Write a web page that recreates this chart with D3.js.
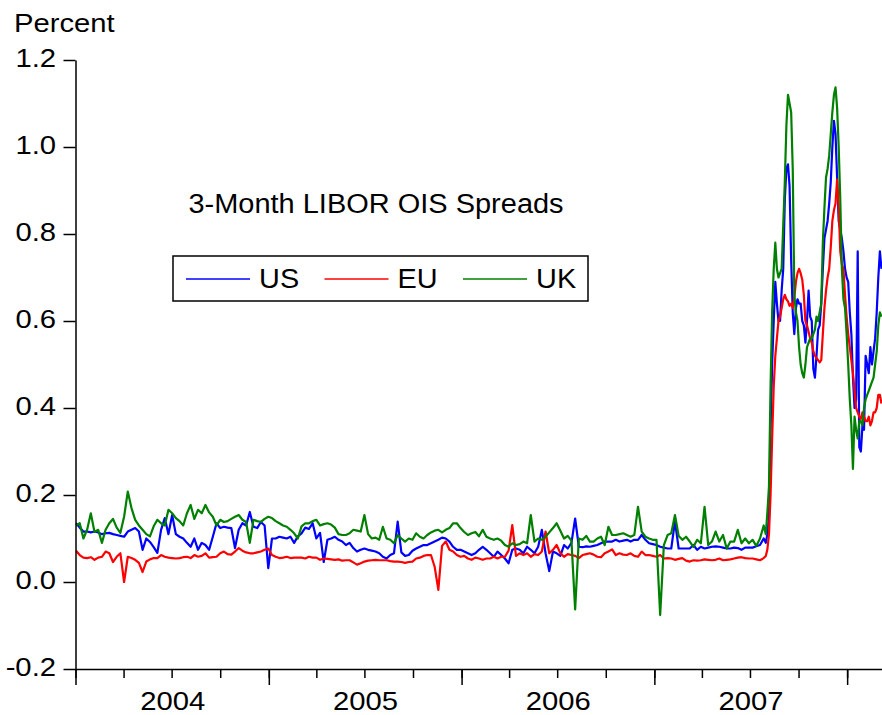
<!DOCTYPE html>
<html>
<head>
<meta charset="utf-8">
<script src="https://cdn.jsdelivr.net/npm/d3@7"></script>
<style>
  body { margin: 0; background: #fff; }
  svg text { font-family: "Liberation Sans", Arial, sans-serif; fill: #000; }
</style>
</head>
<body>
<svg id="chart" width="882" height="715"></svg>
<script>
// weekly readings (Fridays) Jan 2004 - Jul 2007
const usCalm = [
  0.135,0.125,0.116,0.116,0.114,0.116,0.114,0.110,0.112,0.113,
  0.110,0.108,0.106,0.104,0.116,0.120,0.124,0.116,0.074,0.100,
  0.092,0.080,0.067,0.120,0.147,0.110,0.154,0.110,0.104,0.100,
  0.090,0.081,0.100,0.074,0.090,0.085,0.074,0.104,0.135,0.124,
  0.127,0.125,0.124,0.078,0.120,0.135,0.130,0.161,0.127,0.124,
  0.138,0.130,0.032,0.100,0.100,0.104,0.102,0.100,0.104,0.090,
  0.105,0.112,0.125,0.122,0.135,0.100,0.113,0.046,0.097,0.100,
  0.104,0.097,0.093,0.085,0.090,0.078,0.070,0.074,0.077,0.074,
  0.072,0.070,0.066,0.058,0.054,0.062,0.066,0.139,0.068,0.060,
  0.062,0.072,0.077,0.081,0.085,0.085,0.089,0.093,0.097,0.102,
  0.100,0.093,0.081,0.074,0.074,0.070,0.066,0.062,0.066,0.074,
  0.081,0.074,0.066,0.058,0.070,0.062,0.054,0.043,0.074,0.077,
  0.074,0.066,0.081,0.074,0.066,0.081,0.120,0.066,0.025,0.070,
  0.066,0.060,0.085,0.077,0.090,0.146,0.081,0.080,0.082,0.081,
  0.083,0.085,0.089,0.093,0.093,0.093,0.097,0.093,0.095,0.097,
  0.093,0.097,0.097,0.108,0.097,0.089,0.087,0.085,0.081,0.079,
  0.077,0.077,0.140,0.077,0.077,0.077,0.077,0.085,0.074,0.081,
  0.077,0.079,0.081,0.082,0.081,0.079,0.077,0.077,0.079,0.078,
  0.074,0.079,0.079,0.079,0.082,0.085,0.100
]
const euCalm = [
  0.072,0.062,0.056,0.055,0.057,0.051,0.056,0.058,0.070,0.066,
  0.046,0.058,0.066,0.000,0.058,0.055,0.051,0.044,0.023,0.047,
  0.052,0.055,0.055,0.062,0.058,0.056,0.055,0.054,0.055,0.057,
  0.058,0.055,0.062,0.058,0.060,0.066,0.056,0.057,0.058,0.066,
  0.070,0.064,0.063,0.070,0.078,0.072,0.068,0.066,0.066,0.068,
  0.070,0.074,0.077,0.062,0.058,0.055,0.056,0.058,0.055,0.056,
  0.056,0.056,0.054,0.058,0.056,0.056,0.051,0.054,0.053,0.052,
  0.051,0.052,0.049,0.050,0.050,0.045,0.040,0.043,0.047,0.049,
  0.050,0.051,0.050,0.050,0.050,0.048,0.047,0.047,0.046,0.044,
  0.046,0.047,0.054,0.056,0.060,0.062,0.062,0.035,-0.018,0.083,
  0.093,0.074,0.070,0.062,0.058,0.060,0.054,0.051,0.056,0.054,
  0.051,0.054,0.054,0.058,0.054,0.058,0.058,0.072,0.131,0.060,
  0.066,0.062,0.066,0.058,0.064,0.062,0.070,0.116,0.066,0.074,
  0.085,0.066,0.058,0.064,0.062,0.060,0.055,0.062,0.064,0.066,
  0.063,0.058,0.057,0.066,0.070,0.075,0.062,0.066,0.063,0.062,
  0.066,0.060,0.058,0.070,0.062,0.062,0.060,0.058,0.062,0.054,
  0.055,0.054,0.051,0.053,0.055,0.049,0.047,0.050,0.049,0.050,
  0.052,0.051,0.050,0.051,0.054,0.050,0.051,0.052,0.054,0.056,
  0.057,0.055,0.054,0.054,0.052,0.050,0.055
]
const ukCalm = [
  0.130,0.135,0.100,0.120,0.158,0.115,0.120,0.090,0.120,0.135,
  0.145,0.125,0.113,0.150,0.208,0.170,0.143,0.130,0.120,0.110,
  0.105,0.128,0.143,0.135,0.130,0.166,0.158,0.147,0.140,0.130,
  0.158,0.177,0.145,0.166,0.158,0.177,0.160,0.150,0.130,0.143,
  0.138,0.140,0.145,0.150,0.154,0.143,0.138,0.090,0.143,0.140,
  0.138,0.145,0.150,0.147,0.140,0.135,0.130,0.127,0.120,0.112,
  0.100,0.128,0.135,0.135,0.140,0.143,0.130,0.133,0.135,0.132,
  0.125,0.110,0.108,0.108,0.112,0.120,0.118,0.116,0.154,0.110,
  0.100,0.102,0.097,0.127,0.100,0.097,0.089,0.108,0.100,0.093,
  0.100,0.097,0.112,0.104,0.100,0.108,0.114,0.118,0.120,0.114,
  0.120,0.124,0.135,0.135,0.124,0.115,0.108,0.112,0.115,0.105,
  0.120,0.104,0.100,0.097,0.100,0.095,0.085,0.081,0.089,0.085,
  0.087,0.093,0.089,0.154,0.093,0.100,0.097,0.104,0.114,0.124,
  0.135,0.118,0.100,0.106,0.095,-0.063,0.100,0.097,0.106,0.093,
  0.093,0.100,0.104,0.085,0.127,0.108,0.108,0.110,0.112,0.108,
  0.104,0.108,0.173,0.116,0.104,0.100,0.097,0.097,-0.076,0.085,
  0.108,0.112,0.154,0.106,0.097,0.104,0.093,0.081,0.097,0.089,
  0.173,0.085,0.093,0.116,0.093,0.108,0.077,0.093,0.093,0.120,
  0.089,0.100,0.089,0.097,0.083,0.100,0.130
]

// every third day from 31 Jul 2007 to early Mar 2008
const usCrisis = [
  0.09,0.11,0.15,0.35,0.50,0.60,0.69,0.64,0.60,0.60,
  0.67,0.72,0.88,0.95,0.96,0.91,0.74,0.62,0.57,0.63,
  0.65,0.64,0.64,0.60,0.59,0.55,0.60,0.67,0.61,0.60,
  0.49,0.47,0.52,0.58,0.59,0.64,0.72,0.79,0.81,0.83,
  0.87,0.92,1.00,1.06,1.03,0.93,0.83,0.81,0.79,0.76,
  0.72,0.70,0.69,0.62,0.57,0.47,0.40,0.42,0.76,0.31,
  0.30,0.36,0.35,0.52,0.50,0.48,0.54,0.50,0.53,0.56,
  0.62,0.70,0.76,0.72
]
const euCrisis = [
  0.060,0.075,0.11,0.20,0.33,0.45,0.52,0.56,0.60,0.61,
  0.63,0.65,0.66,0.65,0.645,0.635,0.64,0.63,0.655,0.69,
  0.71,0.72,0.71,0.695,0.66,0.60,0.59,0.575,0.56,0.55,
  0.53,0.52,0.515,0.51,0.505,0.51,0.57,0.63,0.67,0.70,
  0.72,0.77,0.83,0.855,0.87,0.925,0.86,0.76,0.73,0.72,
  0.66,0.61,0.57,0.54,0.51,0.48,0.44,0.40,0.39,0.38,
  0.375,0.39,0.38,0.37,0.37,0.38,0.36,0.37,0.39,0.39,
  0.40,0.43,0.43,0.41
]
const ukCrisis = [
  0.11,0.16,0.22,0.45,0.62,0.72,0.78,0.72,0.70,0.71,
  0.72,0.82,0.92,1.05,1.12,1.10,1.08,0.95,0.66,0.62,
  0.60,0.54,0.50,0.48,0.47,0.50,0.54,0.55,0.56,0.56,
  0.57,0.58,0.61,0.60,0.62,0.64,0.78,0.86,0.93,0.95,
  0.98,1.03,1.08,1.12,1.137,1.09,1.00,0.88,0.72,0.65,
  0.63,0.57,0.50,0.42,0.36,0.26,0.38,0.35,0.33,0.37,
  0.37,0.36,0.40,0.42,0.43,0.44,0.45,0.46,0.47,0.50,
  0.53,0.59,0.62,0.61
]

const SERIES = ['US', 'EU', 'UK']
const COLORS = ['#0000ff', '#ff0000', '#008000']
const Y_TICKS = [-0.2, 0.0, 0.2, 0.4, 0.6, 0.8, 1.0, 1.2]
const YEARS = [2004, 2005, 2006, 2007]

const calmDates = d3.timeFriday.range(new Date(2004, 0, 2), new Date(2007, 6, 28))
const crisisDates = d3.timeDay.range(new Date(2007, 6, 31), new Date(2008, 2, 7), 3)
const dates = calmDates.concat(crisisDates)
const values = [
  usCalm.concat(usCrisis),
  euCalm.concat(euCrisis),
  ukCalm.concat(ukCrisis)
]

const svg = d3.select('#chart')
const PLOT_LEFT = 75.5, PLOT_RIGHT = 882, PLOT_TOP = 60, PLOT_BOTTOM = 669
const AXIS_FONT = 25
const STRETCH = 1.17   // the original glyphs are drawn a bit wide

const x = d3.scaleTime()
  .domain([new Date(2004, 0, 1), new Date(2008, 2, 7)])
  .range([PLOT_LEFT, PLOT_RIGHT])
const y = d3.scaleLinear()
  .domain([-0.2, 1.2])
  .range([PLOT_BOTTOM, PLOT_TOP])

svg.append('clipPath').attr('id', 'plot')
  .append('rect')
  .attr('x', PLOT_LEFT).attr('y', 0)
  .attr('width', PLOT_RIGHT - PLOT_LEFT).attr('height', PLOT_BOTTOM)

// lines
const line = d3.line()
  .x((d, i) => x(dates[i]))
  .y(d => y(d))

svg.append('g').attr('clip-path', 'url(#plot)')
  .selectAll('path')
  .data(values)
  .enter().append('path')
  .attr('d', line)
  .attr('fill', 'none')
  .attr('stroke', (d, i) => COLORS[i])
  .attr('stroke-width', 2.2)
  .attr('stroke-linejoin', 'round')

// y axis
const yAxis = svg.append('g')
  .attr('transform', 'translate(' + PLOT_LEFT + ',0)')
  .call(d3.axisLeft(y)
    .tickValues(Y_TICKS)
    .tickFormat(d => d.toFixed(1))
    .tickSize(12)
    .tickSizeOuter(0)
    .tickPadding(8))
yAxis.selectAll('text')
  .style('font-size', AXIS_FONT + 'px')
  .attr('x', -19.5 / STRETCH)
  .attr('dy', '0.26em')
  .attr('transform', 'scale(' + STRETCH + ',1)')

// x axis: quarters, years, labels
svg.append('g')
  .attr('transform', 'translate(0,' + PLOT_BOTTOM + ')')
  .call(d3.axisBottom(x)
    .tickValues(d3.timeMonth.range(new Date(2004, 0, 1), new Date(2008, 2, 7), 3))
    .tickSize(9)
    .tickSizeOuter(0)
    .tickFormat(''))
svg.append('g')
  .attr('transform', 'translate(0,' + PLOT_BOTTOM + ')')
  .call(d3.axisBottom(x)
    .tickValues(d3.timeYear.range(new Date(2004, 0, 1), new Date(2008, 1, 1)))
    .tickSize(16)
    .tickSizeOuter(0)
    .tickFormat(''))
  .select('.domain').remove()
let labels = svg.append('g')
  .attr('transform', 'translate(0,' + PLOT_BOTTOM + ')')
  .call(d3.axisBottom(x)
    .tickValues(YEARS.map(yr => new Date(yr, 6, 2)))
    .tickSize(0)
    .tickPadding(23)
    .tickFormat(d3.timeFormat('%Y')))
labels.select('.domain').remove()
labels.selectAll('text')
  .style('font-size', AXIS_FONT + 'px')
  .attr('transform', 'scale(' + STRETCH + ',1)')

svg.selectAll('.domain, .tick line')
  .attr('stroke', '#000')
  .attr('stroke-width', 1.5)

// texts
svg.append('g')
  .attr('transform', 'translate(14,32)')
  .append('text')
  .attr('transform', 'scale(' + STRETCH + ',1)')
  .style('font-size', '25px')
  .text('Percent')

svg.append('g')
  .attr('transform', 'translate(376,213)')
  .append('text')
  .attr('text-anchor', 'middle')
  .attr('transform', 'scale(1.035,1)')
  .style('font-size', '28px')
  .text('3-Month LIBOR OIS Spreads')

// legend
const LEGEND_X = 173, LEGEND_Y = 256
svg.append('rect')
  .attr('x', LEGEND_X).attr('y', LEGEND_Y)
  .attr('width', 415).attr('height', 45)
  .attr('fill', '#fff')
  .attr('stroke', '#000')
  .attr('stroke-width', 1.5)

let legendElem = svg.append('g')
  .selectAll('g')
  .data(SERIES)
  .enter().append('g')
  .attr('transform', (d, i) => 'translate(' + (LEGEND_X + 13 + i * 138.5) + ',' + (LEGEND_Y + 23) + ')')

legendElem.append('line')
  .attr('x1', 0).attr('x2', 64)
  .attr('stroke', (d, i) => COLORS[i])
  .attr('stroke-width', 1.5)

legendElem.append('text')
  .attr('x', 71).attr('y', 8.5)
  .attr('transform', 'scale(1.03,1)')
  .style('font-size', '28px')
  .text(d => d)
</script>
</body>
</html>
